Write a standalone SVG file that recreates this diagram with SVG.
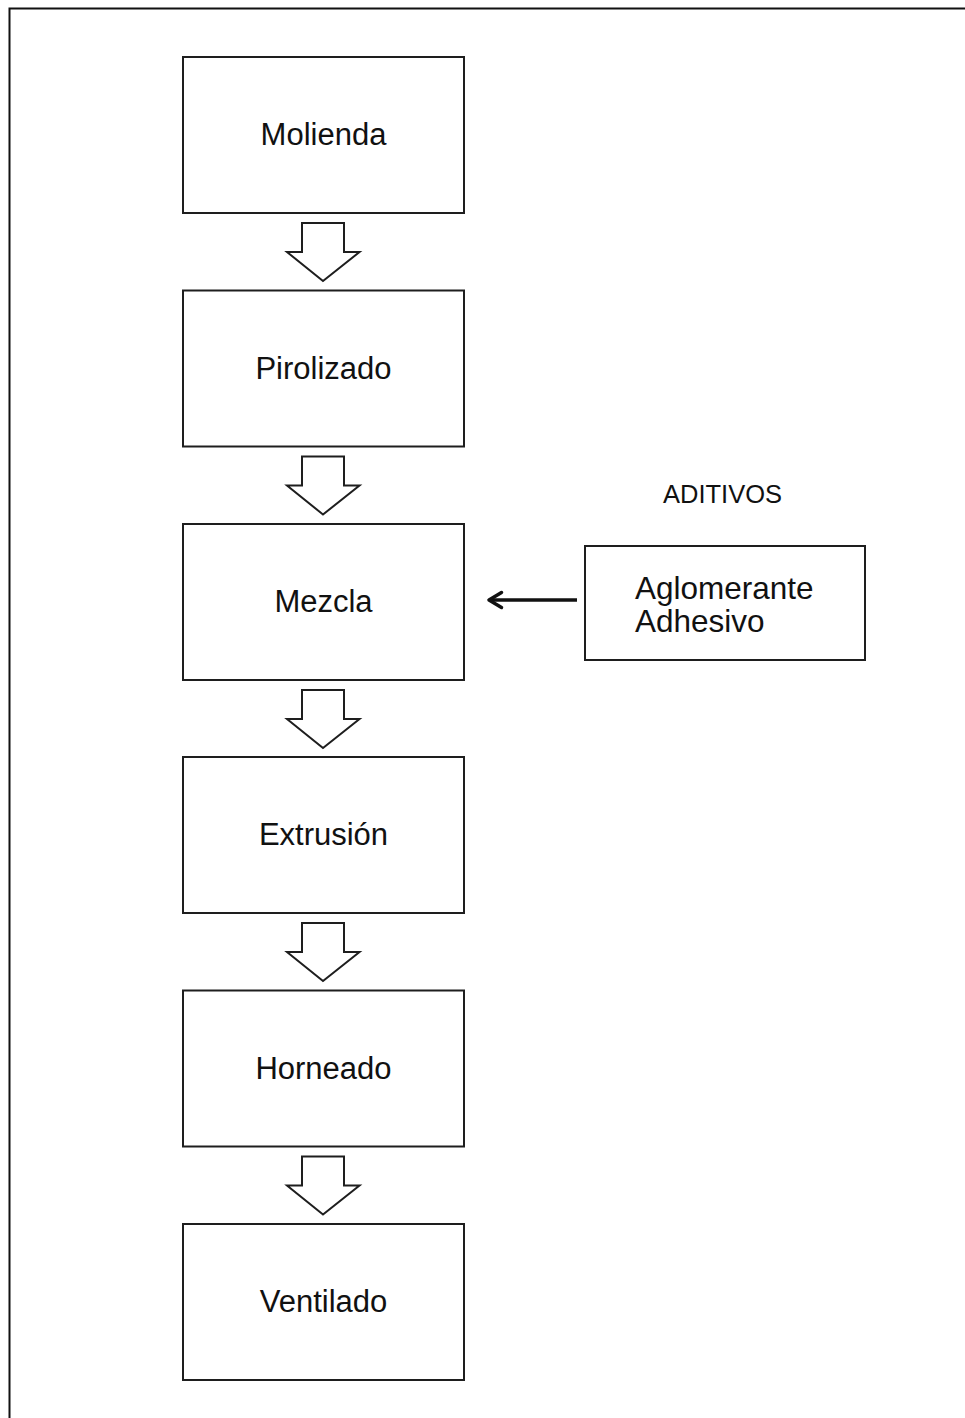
<svg xmlns="http://www.w3.org/2000/svg" width="965" height="1418" viewBox="0 0 965 1418">
<style>
.box{fill:#fff;stroke:#1e1e1e;stroke-width:2}
.lbl{font-family:"Liberation Sans",Arial,sans-serif;font-size:31px;fill:#111;text-anchor:middle}
.side{font-family:"Liberation Sans",Arial,sans-serif;font-size:31.5px;fill:#111}
.flow{fill:#fff;stroke:#1e1e1e;stroke-width:2;stroke-linejoin:miter}
</style>
<rect width="965" height="1418" fill="#fff"/>
<path d="M9.5,1418 V8.5 H965" fill="none" stroke="#111" stroke-width="2"/>
<g id="molienda"><rect class="box" x="183" y="57" width="281" height="156"/><text class="lbl" x="323.5" y="145">Molienda</text></g>
<g id="pirolizado"><rect class="box" x="183" y="290.5" width="281" height="156"/><text class="lbl" x="323.5" y="378.5">Pirolizado</text></g>
<g id="mezcla"><rect class="box" x="183" y="524" width="281" height="156"/><text class="lbl" x="323.5" y="612">Mezcla</text></g>
<g id="extrusion"><rect class="box" x="183" y="757" width="281" height="156"/><text class="lbl" x="323.5" y="845">Extrusión</text></g>
<g id="horneado"><rect class="box" x="183" y="990.5" width="281" height="156"/><text class="lbl" x="323.5" y="1078.5">Horneado</text></g>
<g id="ventilado"><rect class="box" x="183" y="1224" width="281" height="156"/><text class="lbl" x="323.5" y="1312">Ventilado</text></g>
<g id="aditivos">
<text x="722.5" y="503" style="font-family:'Liberation Sans',Arial,sans-serif;font-size:25.5px;fill:#111;text-anchor:middle">ADITIVOS</text>
<rect class="box" x="585" y="546" width="280" height="114"/>
<text class="side" x="635" y="599">Aglomerante</text>
<text class="side" x="635" y="631.5">Adhesivo</text>
</g>
<g id="connectors">
<path class="flow" d="M302,223 H344 V252 H359.5 L323,281 L287,252 H302 Z"/>
<path class="flow" d="M302,456.5 H344 V485.5 H359.5 L323,514.5 L287,485.5 H302 Z"/>
<path class="flow" d="M302,690 H344 V719 H359.5 L323,748 L287,719 H302 Z"/>
<path class="flow" d="M302,923 H344 V952 H359.5 L323,981 L287,952 H302 Z"/>
<path class="flow" d="M302,1156.5 H344 V1185.5 H359.5 L323,1214.5 L287,1185.5 H302 Z"/>
<line x1="577" y1="600" x2="490" y2="600" stroke="#111" stroke-width="3.5"/>
<polyline points="501.5,592.5 489,600 501.5,607.5" fill="none" stroke="#111" stroke-width="3.5" stroke-linecap="round" stroke-linejoin="round"/>
</g>
</svg>
